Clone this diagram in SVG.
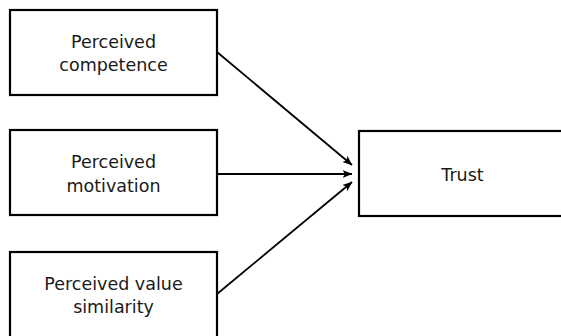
<svg xmlns="http://www.w3.org/2000/svg" width="561" height="336" viewBox="0 0 561 336">
<style>
.box{fill:#fff;stroke:#000;stroke-width:2.2}
.t{font-family:"DejaVu Sans",sans-serif;font-size:17.5px;fill:#1a1a1a;text-anchor:middle}
.c{stroke:#000;stroke-width:1.8;fill:none;marker-end:url(#ah)}
</style>
<defs>
<marker id="ah" markerWidth="10" markerHeight="8" refX="9.5" refY="4" orient="auto" markerUnits="userSpaceOnUse">
<path d="M0,0 L10,4 L0,8 L2.5,4 Z" fill="#000"/>
</marker>
</defs>
<rect width="561" height="336" fill="#fff"/>
<g id="connectors">
<line class="c" x1="217" y1="52" x2="352" y2="165"/>
<line class="c" x1="217" y1="174" x2="352" y2="174"/>
<line class="c" x1="217" y1="294" x2="352" y2="182"/>
</g>
<g id="competence">
<rect class="box" x="10" y="10" width="207" height="85"/>
<text class="t" x="113.5" y="48">Perceived</text>
<text class="t" x="113.5" y="71">competence</text>
</g>
<g id="motivation">
<rect class="box" x="10" y="130" width="207" height="85"/>
<text class="t" x="113.5" y="168">Perceived</text>
<text class="t" x="113.5" y="192">motivation</text>
</g>
<g id="similarity">
<rect class="box" x="10" y="252" width="207" height="88"/>
<text class="t" x="113.5" y="290">Perceived value</text>
<text class="t" x="113.5" y="313">similarity</text>
</g>
<g id="trust">
<rect class="box" x="359" y="131" width="210" height="85"/>
<text class="t" x="462.5" y="181">Trust</text>
</g>
</svg>
